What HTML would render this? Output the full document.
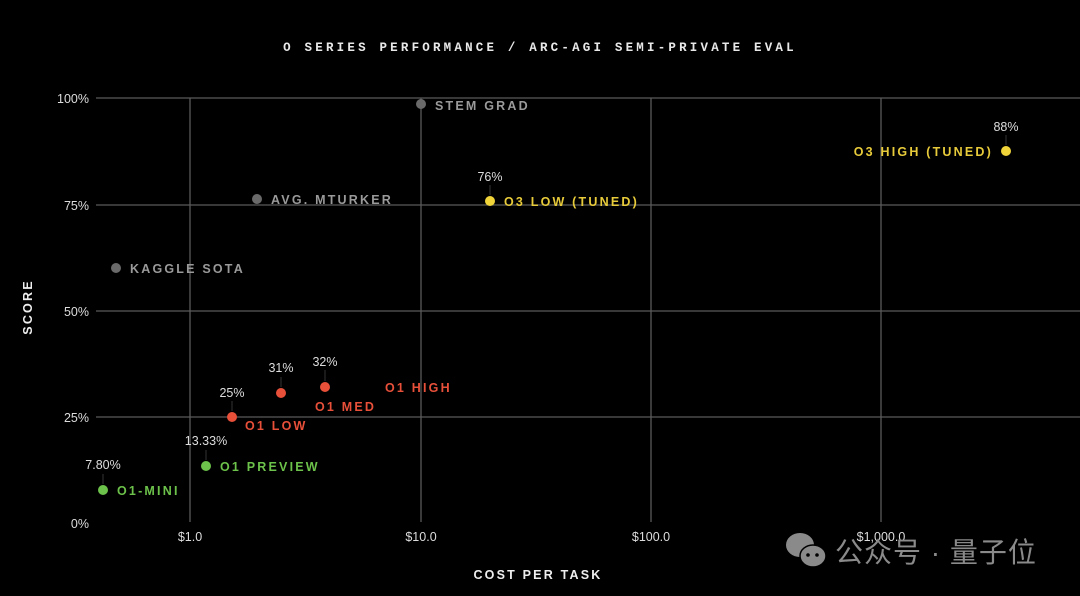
<!DOCTYPE html>
<html><head><meta charset="utf-8"><style>
html,body{margin:0;padding:0;background:#000;}
svg{display:block}
.lab{font-family:"Liberation Sans",sans-serif;font-weight:bold;font-size:12.5px;letter-spacing:2.2px}
.val{font-family:"Liberation Sans",sans-serif;font-size:12.5px;fill:#ddd}
.tick{font-family:"Liberation Sans",sans-serif;font-size:12.5px;fill:#ddd}
</style></head><body>
<svg width="1080" height="596" viewBox="0 0 1080 596" xmlns="http://www.w3.org/2000/svg">
<rect width="1080" height="596" fill="#000"/>
<text x="540" y="51" text-anchor="middle" font-family="Liberation Mono,monospace" font-weight="bold" font-size="12.5" fill="#e8e8e8" letter-spacing="3.2">O SERIES PERFORMANCE / ARC-AGI SEMI-PRIVATE EVAL</text>
<g stroke="#5a5a5a" stroke-width="1.3">
<line x1="96" y1="98" x2="1080" y2="98"/>
<line x1="96" y1="205" x2="1080" y2="205"/>
<line x1="96" y1="311" x2="1080" y2="311"/>
<line x1="96" y1="417" x2="1080" y2="417"/>
<line x1="190" y1="98" x2="190" y2="522"/>
<line x1="421" y1="98" x2="421" y2="522"/>
<line x1="651" y1="98" x2="651" y2="522"/>
<line x1="881" y1="98" x2="881" y2="522"/>
</g>
<g class="tick" text-anchor="end">
<text x="89" y="103">100%</text><text x="89" y="210">75%</text><text x="89" y="316">50%</text><text x="89" y="422">25%</text><text x="89" y="528">0%</text>
</g>
<g class="tick" text-anchor="middle">
<text x="190" y="541">$1.0</text><text x="421" y="541">$10.0</text><text x="651" y="541">$100.0</text><text x="881" y="541">$1,000.0</text>
</g>
<text x="538" y="579" text-anchor="middle" class="lab" fill="#eee" font-size="12">COST PER TASK</text>
<text transform="translate(32,307) rotate(-90)" text-anchor="middle" class="lab" fill="#eee" font-size="12">SCORE</text>
<g stroke="#333" stroke-width="1">
<line x1="103" y1="474" x2="103" y2="484"/><line x1="206" y1="450" x2="206" y2="460"/>
<line x1="232" y1="401" x2="232" y2="411"/><line x1="281" y1="377" x2="281" y2="387"/>
<line x1="325" y1="370" x2="325" y2="381"/><line x1="490" y1="185" x2="490" y2="195"/>
<line x1="1006" y1="135" x2="1006" y2="145"/>
</g>
<g fill="#6a6a6a">
<circle cx="421" cy="104" r="5"/><circle cx="257" cy="199" r="5"/><circle cx="116" cy="268" r="5"/>
</g>
<g class="lab" fill="#9a9a9a">
<text x="435" y="110">STEM GRAD</text><text x="271" y="204">AVG. MTURKER</text><text x="130" y="273">KAGGLE SOTA</text>
</g>
<g fill="#f0d43a">
<circle cx="490" cy="201" r="5"/><circle cx="1006" cy="151" r="5"/>
</g>
<g class="lab" fill="#e8cb3a">
<text x="504" y="206">O3 LOW (TUNED)</text><text x="993" y="156" text-anchor="end">O3 HIGH (TUNED)</text>
</g>
<g fill="#e8503a">
<circle cx="232" cy="417" r="5"/><circle cx="281" cy="393" r="5"/><circle cx="325" cy="387" r="5"/>
</g>
<g class="lab" fill="#e8503a">
<text x="245" y="430">O1 LOW</text><text x="315" y="411">O1 MED</text><text x="385" y="392">O1 HIGH</text>
</g>
<g fill="#6cc24a">
<circle cx="103" cy="490" r="5"/><circle cx="206" cy="466" r="5"/>
</g>
<g class="lab" fill="#6cc24a">
<text x="117" y="495">O1-MINI</text><text x="220" y="471">O1 PREVIEW</text>
</g>
<g class="val" text-anchor="middle">
<text x="103" y="469">7.80%</text><text x="206" y="445">13.33%</text><text x="232" y="397">25%</text>
<text x="281" y="372">31%</text><text x="325" y="366">32%</text><text x="490" y="181">76%</text><text x="1006" y="131">88%</text>
</g>
<g fill="#8a8a8a">
<ellipse cx="800" cy="545" rx="14" ry="12"/>
<ellipse cx="813" cy="556" rx="13" ry="11" stroke="#000" stroke-width="1.5"/>
<circle cx="808" cy="555" r="1.8" fill="#000"/><circle cx="817" cy="555" r="1.8" fill="#000"/>
</g>
<text x="835" y="562" font-family="Liberation Sans,'Noto Sans CJK SC',sans-serif" font-size="28" fill="#8a8a8a" letter-spacing="1">公众号 · 量子位</text>
</svg>
</body></html>
